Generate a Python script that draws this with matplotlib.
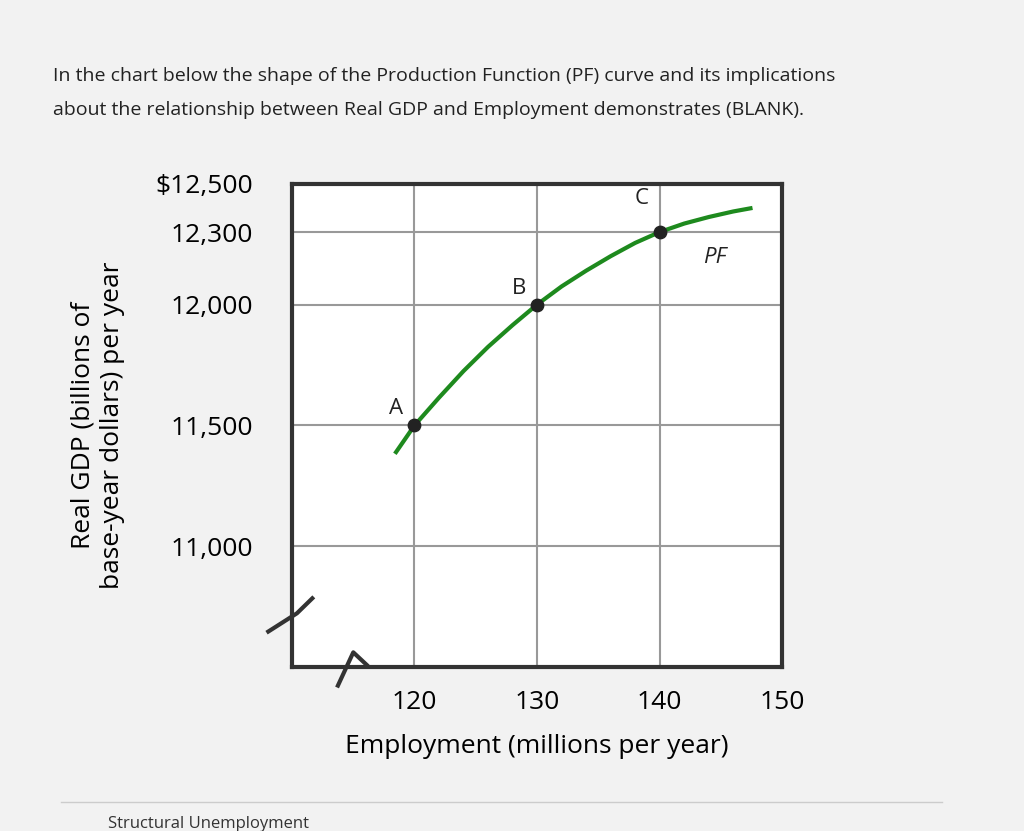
import matplotlib
matplotlib.use("Agg")
import matplotlib.pyplot as plt
from matplotlib.lines import Line2D

plt.rcParams['font.family'] = ['Open Sans', 'DejaVu Sans']

pt_x = [120, 130, 140]
pt_y = [11500, 12000, 12300]
pt_labels = ['A', 'B', 'C']
curve_x = [118.5, 120, 122, 124, 126, 128, 130, 132, 134, 136, 138, 140, 142, 144, 146, 147.4]
curve_y = [11390, 11500, 11615, 11725, 11825, 11915, 12000, 12075, 12140, 12200, 12255, 12300, 12335, 12362, 12385, 12398]
xticks = [120, 130, 140, 150]
yticks = [11000, 11500, 12000, 12300, 12500]
ytick_labels = ['11,000', '11,500', '12,000', '12,300', '$12,500']

fig = plt.figure(figsize=(10.24, 8.31), dpi=100)
fig.patch.set_facecolor('#f2f2f2')
fig.text(0.052, 0.902, "In the chart below the shape of the Production Function (PF) curve and its implications",
         fontsize=14, color='#222')
fig.text(0.052, 0.862, "about the relationship between Real GDP and Employment demonstrates (BLANK).",
         fontsize=14, color='#222')

ax = fig.add_axes([0.285, 0.197, 0.479, 0.582])
ax.set_facecolor('white')
ax.set_xlim(110, 150)
ax.set_ylim(10500, 12500)
for x in xticks[:-1]:
    ax.axvline(x, color='#999', lw=1.5)
for y in yticks[:-1]:
    ax.axhline(y, color='#999', lw=1.5)
for s in ax.spines.values():
    s.set_linewidth(3)
    s.set_color('#333')
ax.tick_params(axis='y', length=0, pad=28, labelsize=19)
ax.tick_params(axis='x', length=0, pad=16, labelsize=19)
ax.set_xticks(xticks)
ax.set_yticks(yticks)
ax.set_yticklabels(ytick_labels)
ax.set_xticklabels([str(v) for v in xticks])
ax.set_xlabel('Employment (millions per year)', fontsize=19, labelpad=14)
ax.set_ylabel('Real GDP (billions of\nbase-year dollars) per year', fontsize=19, labelpad=22)

ax.plot(curve_x, curve_y, color='#1e8a1e', lw=3, zorder=3)
ax.scatter(pt_x, pt_y, s=80, color='#222', zorder=4)
offs = [(-1.5, 25), (-1.5, 25), (-1.5, 95)]
for x, y, l, (dx, dy) in zip(pt_x, pt_y, pt_labels, offs):
    ax.text(x + dx, y + dy, l, fontsize=16, ha='center', va='bottom', color='#222')
ax.text(143.5, 12170, 'PF', fontsize=16, style='italic', color='#222')

# axis break symbol
fig.add_artist(Line2D([0.262, 0.29, 0.305], [0.24, 0.262, 0.28], color='#333', lw=3))
fig.add_artist(Line2D([0.33, 0.345, 0.358], [0.175, 0.215, 0.2], color='#333', lw=3))

fig.add_artist(Line2D([0.06, 0.92], [0.035, 0.035], color='#ccc', lw=1))
fig.text(0.105, 0.004, "Structural Unemployment", fontsize=12, color='#333')
fig.savefig('out.png', dpi=100, facecolor=fig.get_facecolor())
